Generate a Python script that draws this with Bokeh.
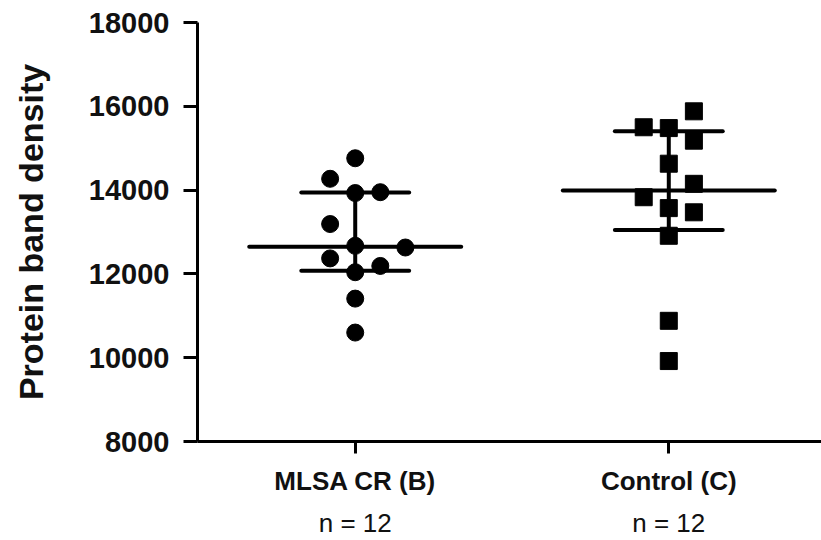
import numpy as np
from bokeh.plotting import figure
from bokeh.models import FixedTicker, LinearAxis, Range1d
from bokeh.embed import file_html
from bokeh.resources import INLINE

# Group names and their sample values (protein band density)
groups = ["MLSA CR (B)", "Control (C)"]
mlsa_values = [14760, 14270, 13930, 13950, 13190, 12670, 12630, 12370, 12190, 12040, 11410, 10600]
control_values = [15880, 15500, 15480, 15180, 14630, 14150, 13830, 13570, 13470, 12910, 10880, 9920]

# Column-scatter slot of each point (side-by-side placement of close values)
mlsa_slots = [0, -1, 0, 1, -1, 0, 2, -1, 1, 0, 0, 0]
control_slots = [1, -1, 0, 1, 0, 1, -1, 0, 1, 0, 0, 0]

y_ticks = [8000, 10000, 12000, 14000, 16000, 18000]

FONT = "Liberation Sans"
INK = "#111111"
SLOT_W = 0.08
CAP_HALF = 0.172
MEDIAN_HALF = 0.338
LW = 4

p = figure(width=821, height=540,
           x_range=Range1d(0.497, 2.487), y_range=Range1d(8000, 18000),
           output_backend="svg", toolbar_location=None,
           min_border_left=197, min_border_right=0,
           min_border_top=22, min_border_bottom=98)
p.outline_line_color = None
p.xgrid.visible = False
p.ygrid.visible = False
p.background_fill_color = "white"
p.border_fill_color = "white"

series = [(mlsa_values, mlsa_slots, "circle"), (control_values, control_slots, "square")]
counts = {}
for i, (vals, slots, marker) in enumerate(series):
    cx = i + 1
    q1, med, q3 = np.percentile(vals, [25, 50, 75], method="weibull")
    # median with interquartile range
    p.segment(x0=[cx - MEDIAN_HALF], y0=[med], x1=[cx + MEDIAN_HALF], y1=[med],
              line_color="black", line_width=LW, line_cap="round")
    p.segment(x0=[cx, cx - CAP_HALF, cx - CAP_HALF], y0=[q1, q1, q3],
              x1=[cx, cx + CAP_HALF, cx + CAP_HALF], y1=[q3, q1, q3],
              line_color="black", line_width=LW, line_cap="round")
    xs = [cx + s * SLOT_W for s in slots]
    p.scatter(xs, vals, marker=marker, size=17, fill_color="black", line_color="black")
    counts[cx] = f"n = {len(vals)}"

ya = p.yaxis[0]
ya.ticker = FixedTicker(ticks=y_ticks)
ya.minor_tick_line_color = None
ya.major_tick_in = 0
ya.major_tick_out = 14
ya.major_tick_line_width = 3
ya.axis_line_width = 3
ya.major_label_standoff = 14
ya.major_label_text_font = FONT
ya.major_label_text_font_style = "bold"
ya.major_label_text_font_size = "29px"
ya.major_label_text_color = INK
ya.axis_label = "Protein band density"
ya.axis_label_text_font = FONT
ya.axis_label_text_font_style = "bold"
ya.axis_label_text_font_size = "34px"
ya.axis_label_text_color = INK
ya.axis_label_standoff = 36

xa = p.xaxis[0]
xa.ticker = FixedTicker(ticks=[1, 2])
xa.major_label_overrides = {1: groups[0], 2: groups[1]}
xa.minor_tick_line_color = None
xa.major_tick_in = 0
xa.major_tick_out = 12
xa.major_tick_line_width = 3
xa.axis_line_width = 3
xa.major_label_standoff = 12
xa.major_label_text_font = FONT
xa.major_label_text_font_style = "bold"
xa.major_label_text_font_size = "26px"
xa.major_label_text_color = INK

# sample sizes under the group names
na = LinearAxis(ticker=FixedTicker(ticks=[1, 2]), major_label_overrides=counts,
                axis_line_color=None, major_tick_line_color=None,
                minor_tick_line_color=None, major_tick_in=0, major_tick_out=0,
                major_label_standoff=9, major_label_text_font=FONT,
                major_label_text_font_size="26px", major_label_text_color=INK)
p.add_layout(na, "below")

open("out.html", "w").write(file_html(p, INLINE))
